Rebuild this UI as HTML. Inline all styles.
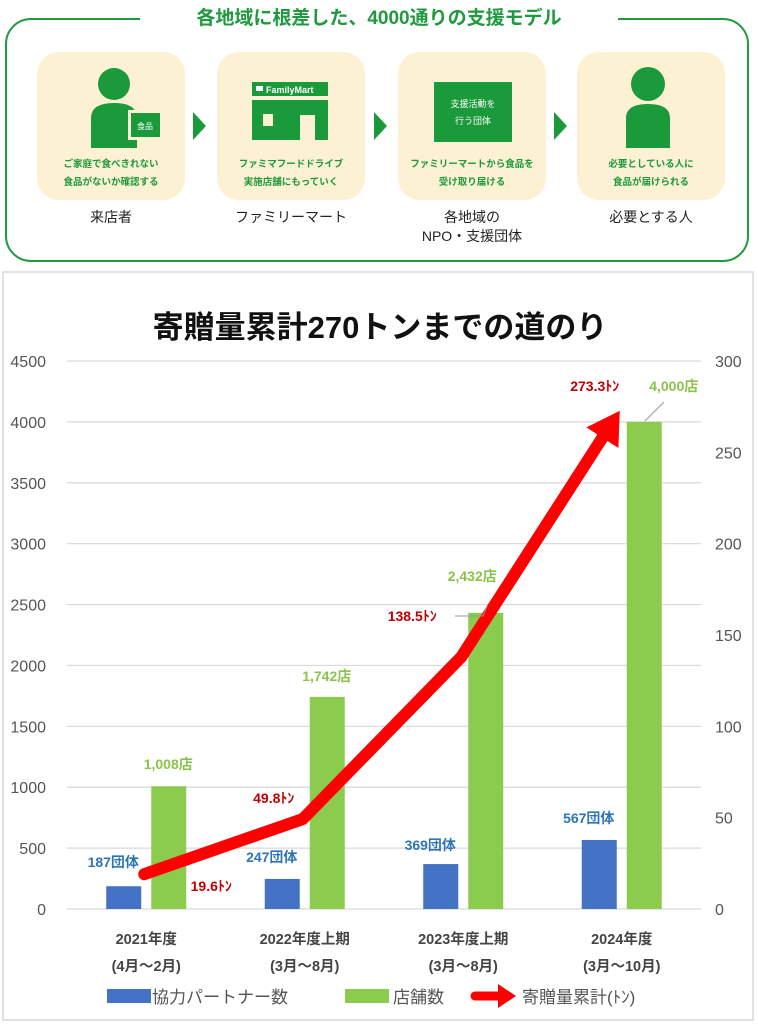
<!DOCTYPE html>
<html><head><meta charset="utf-8">
<style>
body{margin:0;width:758px;height:1024px;background:#fff;font-family:"Liberation Sans","Noto Sans CJK JP",sans-serif;overflow:hidden;position:relative}
.abs{position:absolute}
.card{position:absolute;top:52px;width:148px;height:148px;background:#fdf1d3;border-radius:22px}
.cap{position:absolute;top:156px;width:148px;text-align:center;font-size:9.5px;line-height:18px;color:#1a9a3a;font-weight:bold}
.lbl{position:absolute;top:208px;width:148px;text-align:center;font-size:14px;color:#222;line-height:19px}
.chev{position:absolute;top:112px;width:0;height:0;border-top:14px solid transparent;border-bottom:14px solid transparent;border-left:13px solid #1a9a3a}
</style></head><body>
<div class="abs" style="left:5px;top:18px;width:744px;height:244px;border:2.5px solid #1f9a3e;border-radius:26px;box-sizing:border-box"></div>
<div class="abs" style="left:140px;top:4px;width:478px;height:30px;background:#fff;text-align:center;font-size:19px;font-weight:bold;color:#1f9a3e;line-height:30px">各地域に根差した、4000通りの支援モデル</div>

<div class="card" style="left:37px"></div>
<div class="card" style="left:217px"></div>
<div class="card" style="left:398px"></div>
<div class="card" style="left:577px"></div>
<svg class="abs" style="left:0;top:0" width="758" height="270">
<g fill="#1a9a3a">
<circle cx="114" cy="84" r="16"/><path d="M91 148 V118 Q91 103 114 103 Q137 103 137 118 V148Z"/>
<rect x="128" y="110" width="35" height="30" fill="#fdf1d3"/><rect x="131" y="113" width="29" height="24"/>
<rect x="252" y="82" width="76" height="14"/><path d="M252 100 H328 V140 H315 V115 H300 V140 H252Z"/><rect x="263" y="114" width="10" height="12" fill="#fdf1d3"/>
<rect x="434" y="82" width="78" height="60"/>
<circle cx="648" cy="84" r="17"/><path d="M626 148 V118 Q626 104 648 104 Q670 104 670 118 V148Z"/>
</g>
<rect x="256" y="86" width="7" height="5" fill="#fff"/>
<text x="266" y="93" font-size="9" fill="#fff" font-weight="bold" font-family="Liberation Sans">FamilyMart</text>
<text x="145" y="129" font-size="8" fill="#fff" text-anchor="middle">食品</text>
<text x="473" y="107" font-size="9" fill="#fff" text-anchor="middle">支援活動を</text>
<text x="473" y="124" font-size="9" fill="#fff" text-anchor="middle">行う団体</text>
</svg>
<div class="chev" style="left:193px"></div>
<div class="chev" style="left:374px"></div>
<div class="chev" style="left:554px"></div>
<div class="cap" style="left:37px">ご家庭で食べきれない<br>食品がないか確認する</div>
<div class="cap" style="left:217px">ファミマフードドライブ<br>実施店舗にもっていく</div>
<div class="cap" style="left:398px">ファミリーマートから食品を<br>受け取り届ける</div>
<div class="cap" style="left:577px">必要としている人に<br>食品が届けられる</div>
<div class="lbl" style="left:37px">来店者</div>
<div class="lbl" style="left:217px">ファミリーマート</div>
<div class="lbl" style="left:398px">各地域の<br>NPO・支援団体</div>
<div class="lbl" style="left:577px">必要とする人</div>

<svg id="chart" class="abs" style="left:0;top:0" width="758" height="1024"></svg>
<script>
const categories=["2021年度|(4月～2月)","2022年度上期|(3月～8月)","2023年度上期|(3月～8月)","2024年度|(3月～10月)"];
const partners=[187,247,369,567];
const stores=[1008,1742,2432,4000];
const tons=[19.6,49.8,138.5,273.3];
const leftTicks=[0,500,1000,1500,2000,2500,3000,3500,4000,4500];
const rightTicks=[0,50,100,150,200,250,300];
const partnerLabels=["187団体","247団体","369団体","567団体"];
const storeLabels=["1,008店","1,742店","2,432店","4,000店"];
const tonLabels=["19.6ﾄﾝ","49.8ﾄﾝ","138.5ﾄﾝ","273.3ﾄﾝ"];

const NS="http://www.w3.org/2000/svg";
const svg=document.getElementById('chart');
const X0=67,X1=701,Y0=909,Y1=361;
const yL=v=>Y0-(v/4500)*(Y0-Y1);
const yR=v=>Y0-(v/300)*(Y0-Y1);
const bw=(X1-X0)/categories.length;
const cx=i=>X0+bw*(i+0.5);
function mk(t,a,txt){const e=document.createElementNS(NS,t);for(const k in a)e.setAttribute(k,a[k]);if(txt!=null)e.textContent=txt;svg.appendChild(e);return e;}

let p=mk('rect',{x:3,y:272,width:750,height:748,fill:'none',stroke:'#d9d9d9','stroke-width':1.5});

let t=mk('text',{x:380,y:338,'font-size':31,'font-weight':'bold','text-anchor':'middle',fill:'#111'},'寄贈量累計270トンまでの道のり');


leftTicks.forEach(v=>{
 let g=mk('line',{x1:X0,x2:X1,y1:yL(v),y2:yL(v),stroke:'#d9d9d9','stroke-width':1.2});
 
 let l=mk('text',{x:46,y:yL(v)+6,'font-size':16,'text-anchor':'end',fill:'#555'},String(v));
 
});
rightTicks.forEach(v=>{
 let l=mk('text',{x:715,y:yR(v)+6,'font-size':16,fill:'#555'},String(v));
 
});
const pOffY=[19,17,14,17];
const sOff=[[22,17],[22,16],[9,32],[52,31]];
categories.forEach((c,i)=>{
 const b=mk('rect',{x:cx(i)-40,y:yL(partners[i]),width:35,height:Y0-yL(partners[i]),fill:'#4472c4'});
 
 const g=mk('rect',{x:cx(i)+5,y:yL(stores[i]),width:35,height:Y0-yL(stores[i]),fill:'#8bcc4e'});
 
 const pl=mk('text',{x:cx(i)-33,y:yL(partners[i])-pOffY[i],'font-size':14,'font-weight':'bold','text-anchor':'middle',fill:'#2e75b6'},partnerLabels[i]);
 
 const sl=mk('text',{x:cx(i)+sOff[i][0],y:yL(stores[i])-sOff[i][1],'font-size':14,'font-weight':'bold','text-anchor':'middle',fill:'#8bc34a'},storeLabels[i]);
 
 c.split('|').forEach((s,k)=>{const cl=mk('text',{x:cx(i),y:944+k*27,'font-size':14.5,'font-weight':'bold','text-anchor':'middle',fill:'#444'},s);
 });
});
const pts=tons.map((v,i)=>[cx(i)-2,yR(v)+1]);
const last=pts[pts.length-1],prev=pts[pts.length-2];
const dx=last[0]-prev[0],dy=last[1]-prev[1],L=Math.hypot(dx,dy),ux=dx/L,uy=dy/L;
const hb=[last[0]-ux*32,last[1]-uy*32];
const lp=pts.slice(0,-1).concat([hb]);
const line=mk('polyline',{points:lp.map(q=>q.join(',')).join(' '),fill:'none',stroke:'#ff0000','stroke-width':12,'stroke-linejoin':'round','stroke-linecap':'round'});

const head=mk('polygon',{points:[last,[hb[0]-uy*19,hb[1]+ux*19],[hb[0]+uy*19,hb[1]-ux*19]].map(q=>q.join(',')).join(' '),fill:'#ff0000'});

const tOff=[[65,18],[-31,-15],[-51,-35],[-27,-19]];
tons.forEach((v,i)=>{const tl=mk('text',{x:cx(i)+tOff[i][0],y:yR(v)+tOff[i][1],'font-size':14,'font-weight':'bold','text-anchor':'middle',fill:'#c00000'},tonLabels[i]);
 });
mk('line',{x1:455,y1:616,x2:483,y2:616,stroke:'#999'});
mk('line',{x1:483,y1:616,x2:487,y2:606,stroke:'#999'});
mk('line',{x1:645,y1:421,x2:664,y2:402,stroke:'#999'});
[['rect',107,'#4472c4','協力パートナー数',152],['rect',345,'#8bcc4e','店舗数',393]].forEach(a=>{
 const r=mk('rect',{x:a[1],y:989,width:44,height:14,fill:a[2]});
 const lt=mk('text',{x:a[4],y:1003,'font-size':17,fill:'#555'},a[3]);
});
mk('line',{x1:475,y1:996,x2:500,y2:996,stroke:'#ff0000','stroke-width':9,'stroke-linecap':'round'});
const la=mk('polygon',{points:'498,984 516,996 498,1008',fill:'#ff0000'});
const lt3=mk('text',{x:522,y:1003,'font-size':17,fill:'#555'},'寄贈量累計(ﾄﾝ)');
</script>
</body></html>
